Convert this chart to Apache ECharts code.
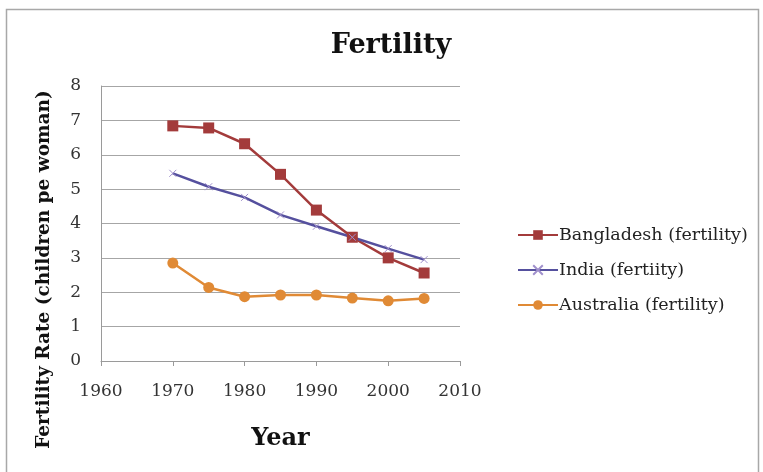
<!DOCTYPE html>
<html>
<head>
<meta charset="utf-8">
<script src="https://cdn.jsdelivr.net/npm/echarts@6/dist/echarts.min.js"></script>
<style>
  html, body { margin: 0; padding: 0; background: #fff; }
  #main { width: 763px; height: 472px; }
</style>
</head>
<body>
<div id="main"></div>
<script>
var years = [1970, 1975, 1980, 1985, 1990, 1995, 2000, 2005];
var bangladesh = [6.84, 6.78, 6.32, 5.43, 4.39, 3.6, 3.0, 2.56];
var india = [5.46, 5.07, 4.76, 4.25, 3.92, 3.6, 3.27, 2.95];
var australia = [2.85, 2.14, 1.87, 1.92, 1.92, 1.83, 1.75, 1.82];
var seriesNames = ['Bangladesh (fertility)', 'India (fertiity)', 'Australia (fertility)'];
var yTicks = [0, 1, 2, 3, 4, 5, 6, 7, 8];

function pairs(vals) {
    var res = [];
    for (var i = 0; i < years.length; i++) {
        res.push([years[i], vals[i]]);
    }
    return res;
}

var serif = 'DejaVu Serif';
var myChart = echarts.init(document.getElementById('main'));

var option = {
    animation: false,
    backgroundColor: '#fff',
    title: {
        text: 'Fertility',
        left: 386,
        top: 27,
        textAlign: 'center',
        textStyle: { fontFamily: serif, fontSize: 27, fontWeight: 'bold', color: '#111' }
    },
    graphic: [{
        type: 'rect',
        shape: { x: 6.5, y: 9.5, width: 752, height: 470 },
        style: { fill: 'none', stroke: '#a8a8a8', lineWidth: 1.5 },
        silent: true
    }],
    legend: {
        orient: 'vertical',
        left: 512,
        top: 221,
        itemGap: 17,
        itemWidth: 40,
        itemHeight: 12,
        data: seriesNames,
        textStyle: { fontFamily: serif, fontSize: 17.5, color: '#222', padding: [0, 0, 0, -4] }
    },
    grid: { left: 101, right: 303, top: 86, bottom: 111 },
    xAxis: {
        type: 'value',
        min: 1960,
        max: 2010,
        interval: 10,
        name: 'Year',
        nameLocation: 'middle',
        nameGap: 66,
        nameTextStyle: { fontFamily: serif, fontSize: 24, fontWeight: 'bold', color: '#111' },
        axisLine: { show: true, lineStyle: { color: '#9a9a9a' } },
        axisTick: { show: true, length: 5, lineStyle: { color: '#9a9a9a' } },
        splitLine: { show: false },
        axisLabel: {
            fontFamily: serif, fontSize: 17, color: '#333', margin: 22,
            formatter: function (v) { return String(v); }
        }
    },
    yAxis: {
        type: 'value',
        min: yTicks[0],
        max: yTicks[yTicks.length - 1],
        interval: 1,
        name: 'Fertility Rate (children pe woman)',
        nameLocation: 'middle',
        nameGap: 47,
        nameTextStyle: {
            fontFamily: serif, fontSize: 18.5, fontWeight: 'bold', color: '#111',
            padding: [0, 92, 0, 0]
        },
        axisLine: { show: true, lineStyle: { color: '#9a9a9a' } },
        axisTick: { show: false },
        splitLine: { lineStyle: { color: '#a6a6a6' } },
        axisLabel: { fontFamily: serif, fontSize: 17, color: '#333', margin: 20 }
    },
    series: [{
        name: seriesNames[0],
        type: 'line',
        data: pairs(bangladesh),
        symbol: 'rect',
        symbolSize: 11,
        color: '#a33b3b',
        lineStyle: { width: 2.5, color: '#a33b3b' },
        itemStyle: { color: '#a33b3b' }
    }, {
        name: seriesNames[1],
        type: 'line',
        data: pairs(india),
        symbol: 'path://M0,0L10,10M10,0L0,10',
        symbolSize: 7,
        color: '#55509e',
        lineStyle: { width: 2.5, color: '#55509e' },
        itemStyle: { color: 'none', borderColor: '#a090cc', borderWidth: 1 }
    }, {
        name: seriesNames[2],
        type: 'line',
        data: pairs(australia),
        symbol: 'circle',
        symbolSize: 11,
        color: '#e08a35',
        lineStyle: { width: 2.5, color: '#e08a35' },
        itemStyle: { color: '#e08a35' }
    }]
};

myChart.setOption(option);
</script>
</body>
</html>
